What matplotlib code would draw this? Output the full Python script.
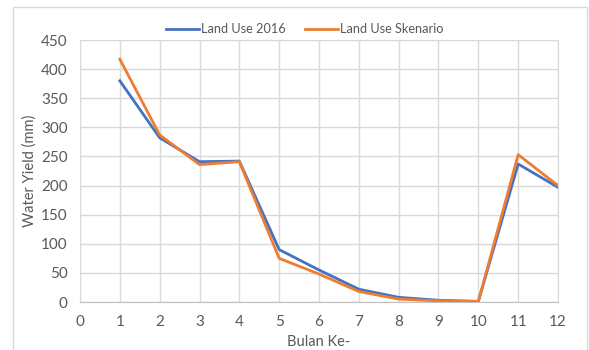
import matplotlib
matplotlib.use("Agg")
import matplotlib.pyplot as plt
from matplotlib.patches import Rectangle

# Monthly water yield (mm)
months = [1, 2, 3, 4, 5, 6, 7, 8, 9, 10, 11, 12]
land_use_2016 = [380, 282, 241, 242, 90, 55, 22, 8, 3, 1, 237, 197]
land_use_skenario = [417, 287, 236, 241, 75, 48, 18, 5, 2, 1, 253, 200]
series_labels = ["Land Use 2016", "Land Use Skenario"]
x_ticks = list(range(0, 13))
y_ticks = list(range(0, 451, 50))

plt.rcParams["font.family"] = ["Lato", "DejaVu Sans"]
text_color = "#595959"
grid_color = "#D9D9D9"
fs = 10.5

fig = plt.figure(figsize=(5.89, 3.5), dpi=100)
fig.patch.set_facecolor("white")

# Chart frame
fig.patches.append(Rectangle((13 / 589, -0.05), (587 - 13) / 589, 1.05 - 7 / 350,
                             transform=fig.transFigure, fill=False,
                             edgecolor="#D9D9D9", linewidth=1.0))

ax = fig.add_axes([80 / 589, 1 - 302 / 350, (558 - 80) / 589, (302 - 40) / 350])
ax.plot(months, land_use_2016, color="#4472C4", linewidth=2.0, label=series_labels[0])
ax.plot(months, land_use_skenario, color="#ED7D31", linewidth=2.0, label=series_labels[1])

ax.set_xlim(0, 12)
ax.set_ylim(0, 450)
ax.set_xticks(x_ticks)
ax.set_yticks(y_ticks)
ax.grid(True, color=grid_color, linewidth=1.0)
ax.set_axisbelow(True)
for side in ["top", "right", "left"]:
    ax.spines[side].set_color(grid_color)
ax.spines["bottom"].set_color("#BFBFBF")
ax.tick_params(length=0, colors=text_color, labelsize=11, pad=9)
ax.tick_params(axis="y", pad=9)

ax.set_xlabel("Bulan Ke-", color=text_color, fontsize=fs, labelpad=5)
ax.set_ylabel("Water Yield (mm)", color=text_color, fontsize=fs, labelpad=3)

leg = fig.legend(loc="center", bbox_to_anchor=(305 / 589, 1 - 29 / 350), ncol=2,
                 frameon=False, fontsize=9.2, handlelength=2.6, handletextpad=0.15,
                 columnspacing=1.5)
for t in leg.get_texts():
    t.set_color(text_color)

fig.savefig("out.png", dpi=100, facecolor="white")
